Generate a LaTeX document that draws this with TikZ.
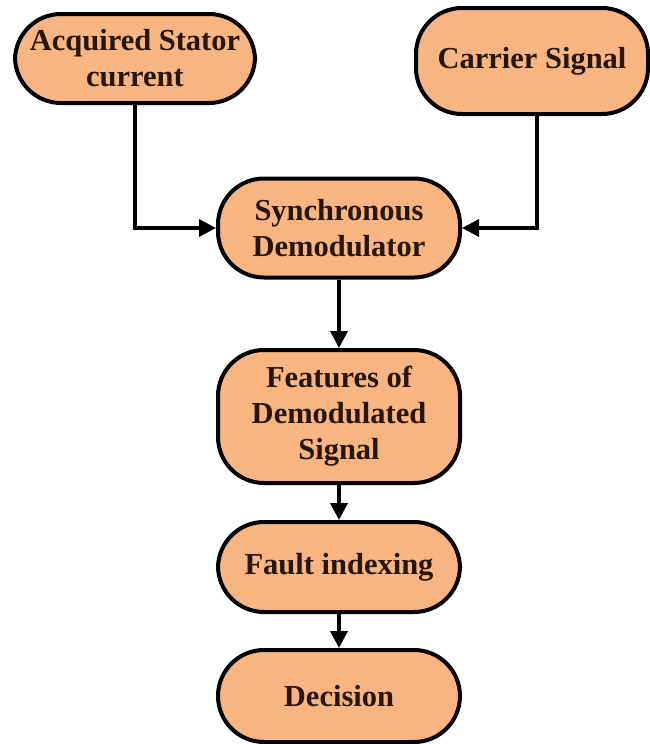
\documentclass[tikz,border=0pt]{standalone}
\usepackage{fontspec}
\setmainfont{Liberation Serif}
\usetikzlibrary{arrows.meta}
\definecolor{boxfill}{RGB}{249,181,129}
\definecolor{txt}{RGB}{38,22,12}
\begin{document}
\begin{tikzpicture}[x=1pt,y=-1pt,
  flowbox/.style={draw=black,line width=4pt,fill=boxfill,rounded corners=46pt,
    align=center,inner sep=0pt,text=txt,
    font=\fontsize{30.5}{36}\selectfont\bfseries},
  conn/.style={line width=3.5pt,-{Triangle[length=17pt,width=17pt]}}]
\useasboundingbox (0,0) rectangle (649,744);
\node[flowbox,minimum width=240pt,minimum height=89pt] (acq) at (135,58.5) {Acquired Stator\\current};
\node[flowbox,minimum width=232pt,minimum height=106pt] (car) at (532,61) {Carrier Signal};
\node[flowbox,minimum width=242pt,minimum height=99pt] (sync) at (339,228) {Synchronous\\Demodulator};
\node[flowbox,minimum width=242pt,minimum height=133pt] (feat) at (339,416.5) {Features of\\Demodulated\\Signal};
\node[flowbox,minimum width=242pt,minimum height=90pt] (fault) at (339,567) {Fault indexing};
\node[flowbox,minimum width=242pt,minimum height=92pt] (dec) at (339,696) {Decision};
\draw[conn] (acq.south) |- (sync.west);
\draw[conn] ([xshift=5pt]car.south) |- (sync.east);
\draw[conn] (sync) -- (feat);
\draw[conn] (feat) -- (fault);
\draw[conn] (fault) -- (dec);
\end{tikzpicture}
\end{document}
